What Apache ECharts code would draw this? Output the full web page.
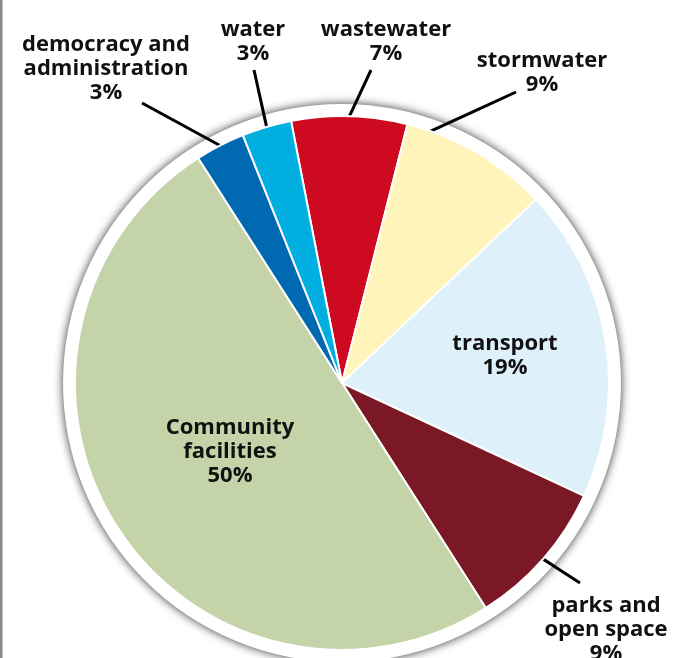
<!DOCTYPE html>
<html>
<head>
<meta charset="utf-8">
<script src="https://cdn.jsdelivr.net/npm/echarts@6/dist/echarts.min.js"></script>
<style>
html,body{margin:0;padding:0;background:#fff;}
#chart{width:688px;height:658px;}
</style>
</head>
<body>
<div id="chart"></div>
<script>
// ---- data ----
const categories = [
  'wastewater',
  'stormwater',
  'transport',
  'parks and\nopen space',
  'Community\nfacilities',
  'democracy and\nadministration',
  'water'
];
const values = [7, 9, 19, 9, 50, 3, 3];
const colors = ['#CD0A20', '#FFF4BA', '#DEF0FA', '#7A1826', '#C5D3A9', '#0069B1', '#00AEE0'];
const insideLabels = [false, false, true, false, true, false, false];

// ---- layout (label centres, leader-line ends in px, leader-line start angle offsets in deg) ----
const labelPos = [
  [386, 42], [542, 73], [505, 356], [606, 630], [230, 452], [106, 69], [253, 42]
];
const lineEnd = [
  [371, 70], [516, 92], null, [580, 583], null, [142, 103], [254, 70]
];
const lineStartShift = [0, -11, 0, 0, 0, 0, 0];
const CENTER = [342, 383];

const chart = echarts.init(document.getElementById('chart'));
const FONT = '"Open Sans", "Noto Sans", sans-serif';

const dataItems = categories.map((name, i) => ({
  name: name,
  value: values[i],
  itemStyle: { color: colors[i] },
  label: insideLabels[i] ? { position: 'inside' } : { position: 'outside' },
  labelLine: { show: !insideLabels[i] }
}));

function rotateAround(p, c, deg) {
  const a = deg * Math.PI / 180;
  const dx = p[0] - c[0], dy = p[1] - c[1];
  return [c[0] + dx * Math.cos(a) - dy * Math.sin(a), c[1] + dx * Math.sin(a) + dy * Math.cos(a)];
}

chart.setOption({
  animation: false,
  backgroundColor: '#fff',
  graphic: [{
    type: 'rect',
    shape: { x: 0, y: 0, width: 2.5, height: 658 },
    style: { fill: '#8a8a8a' },
    silent: true
  }],
  series: [
    {
      type: 'pie',
      silent: true,
      center: CENTER,
      radius: [0, 279],
      z: 1,
      label: { show: false },
      labelLine: { show: false },
      itemStyle: {
        color: '#ffffff',
        shadowBlur: 10,
        shadowColor: 'rgba(0,0,0,0.8)'
      },
      data: [{ value: 1, name: '' }]
    },
    {
      type: 'pie',
      silent: true,
      z: 2,
      center: CENTER,
      radius: [0, 267],
      startAngle: 101,
      clockwise: true,
      avoidLabelOverlap: false,
      itemStyle: { borderColor: '#ffffff', borderWidth: 2 },
      label: {
        show: true,
        formatter: p => p.name + '\n' + p.value + '%',
        color: '#111111',
        fontFamily: FONT,
        fontWeight: 'bold',
        fontSize: 22,
        lineHeight: 24,
        align: 'center'
      },
      labelLine: {
        show: true,
        lineStyle: { color: '#000000', width: 3 }
      },
      labelLayout: function (params) {
        const i = params.dataIndex;
        const pos = labelPos[i];
        const out = { x: pos[0], y: pos[1], align: 'center', verticalAlign: 'middle' };
        if (lineEnd[i] && params.labelLinePoints) {
          const p0 = rotateAround(params.labelLinePoints[0], CENTER, lineStartShift[i]);
          const pe = lineEnd[i];
          out.labelLinePoints = [p0, [(p0[0] + pe[0]) / 2, (p0[1] + pe[1]) / 2], pe];
        }
        return out;
      },
      data: dataItems
    }
  ]
});
</script>
</body>
</html>
